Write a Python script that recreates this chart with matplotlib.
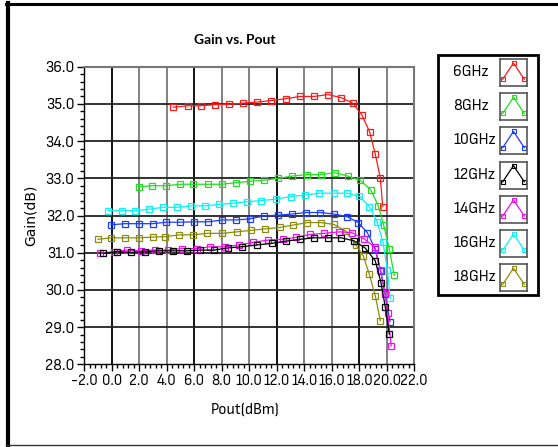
import matplotlib
matplotlib.use("Agg")
from matplotlib import pyplot as plt
from matplotlib.lines import Line2D
import numpy as np

plt.rcParams['font.family'] = ['Lato', 'DejaVu Sans']
narrow = ['Sofia Sans Semi Condensed', 'Lato']

# data: Pout (dBm) and Gain (dB) for each frequency
labels = ["6GHz", "8GHz", "10GHz", "12GHz", "14GHz", "16GHz", "18GHz"]
colors = ["#ff1a1a", "#22dd22", "#1a3cff", "#000000", "#ee10ee", "#10f0f0", "#8c8c10"]

pout_6 = [4.48, 5.53, 6.49, 7.51, 8.53, 9.53, 10.59, 11.6, 12.65, 13.7, 14.7, 15.75,
          16.68, 17.53, 18.2, 18.76, 19.17, 19.54, 19.71]
gain_6 = [34.91, 34.95, 34.95, 34.98, 34.99, 35.02, 35.05, 35.09, 35.14, 35.2, 35.2, 35.25,
          35.17, 35.02, 34.70, 34.25, 33.65, 33.0, 32.24]

pout_8 = [1.96, 2.93, 3.95, 4.99, 5.93, 6.98, 8.0, 9.02, 10.06, 11.08, 12.12, 13.13,
          14.18, 15.2, 16.24, 17.16, 18.06, 18.84, 19.39, 19.78, 20.19, 20.55]
gain_8 = [32.77, 32.80, 32.80, 32.84, 32.84, 32.84, 32.84, 32.88, 32.92, 32.95, 33.0, 33.06,
          33.10, 33.10, 33.15, 33.06, 32.95, 32.69, 32.26, 31.74, 31.1, 30.39]

pout_10 = [-0.05, 0.95, 1.96, 2.98, 3.97, 4.99, 6.01, 7.03, 8.04, 9.04, 10.06, 11.1, 12.12,
           13.13, 14.15, 15.17, 16.17, 17.11, 17.93, 18.59, 19.17, 19.56, 19.88, 20.24]
gain_10 = [31.75, 31.78, 31.78, 31.78, 31.82, 31.82, 31.83, 31.83, 31.88, 31.88, 31.91, 31.99,
           32.01, 32.04, 32.08, 32.08, 32.04, 31.97, 31.81, 31.54, 31.09, 30.52, 29.88, 29.15]

pout_12 = [-0.61, 0.41, 1.4, 2.42, 3.42, 4.44, 5.45, 6.42, 7.44, 8.48, 9.5, 10.59, 11.64,
           12.65, 13.7, 14.73, 15.73, 16.68, 17.62, 18.42, 19.17, 19.59, 19.9, 20.19]
gain_12 = [30.98, 31.03, 31.01, 31.03, 31.05, 31.05, 31.05, 31.07, 31.07, 31.13, 31.16, 31.21,
           31.25, 31.31, 31.36, 31.40, 31.40, 31.40, 31.32, 31.13, 30.78, 30.18, 29.53, 28.81]

pout_14 = [-0.85, 0.17, 1.09, 2.13, 3.13, 4.12, 5.11, 6.18, 7.15, 8.22, 9.28, 10.3, 11.39,
           12.44, 13.38, 14.42, 15.44, 16.55, 17.45, 18.37, 19.13, 19.54, 19.88, 20.07, 20.33]
gain_14 = [30.98, 31.03, 31.07, 31.05, 31.07, 31.07, 31.11, 31.11, 31.16, 31.16, 31.21, 31.28,
           31.34, 31.36, 31.41, 31.49, 31.52, 31.56, 31.54, 31.37, 31.15, 30.53, 29.91, 29.37, 28.49]

pout_16 = [-0.29, 0.73, 1.72, 2.73, 3.75, 4.77, 5.79, 6.81, 7.8, 8.82, 9.84, 10.85, 11.97,
           13.02, 14.06, 15.1, 16.15, 17.11, 18.01, 18.73, 19.32, 19.73, 20.05, 20.26]
gain_16 = [32.13, 32.13, 32.13, 32.17, 32.22, 32.22, 32.26, 32.26, 32.30, 32.33, 32.37, 32.40,
           32.44, 32.51, 32.55, 32.6, 32.6, 32.6, 32.52, 32.24, 31.82, 31.28, 30.53, 29.77]

pout_18 = [-1.0, -0.03, 0.99, 1.99, 3.0, 3.88, 4.92, 5.93, 6.91, 8.04, 9.09, 10.11, 11.15,
           12.24, 13.16, 14.23, 15.2, 16.17, 17.02, 17.77, 18.3, 18.73, 19.17, 19.54]
gain_18 = [31.36, 31.40, 31.40, 31.40, 31.42, 31.43, 31.48, 31.48, 31.52, 31.52, 31.56, 31.60,
           31.64, 31.68, 31.74, 31.81, 31.81, 31.76, 31.58, 31.2, 30.91, 30.43, 29.84, 29.17]

pouts = [pout_6, pout_8, pout_10, pout_12, pout_14, pout_16, pout_18]
gains = [gain_6, gain_8, gain_10, gain_12, gain_14, gain_16, gain_18]

x_ticks = np.arange(-2, 22.1, 2)
y_ticks = np.arange(28, 36.1, 1)

W, H = 558, 447
fig = plt.figure(figsize=(W / 100, H / 100), dpi=100)

# outer frame of the screenshot
fig.add_artist(Line2D([7.5 / W, 7.5 / W], [1 - 3 / H, 1 - 445 / H], color="black", lw=3))
fig.add_artist(Line2D([6 / W, 1], [1 - 3.5 / H, 1 - 3.5 / H], color="black", lw=2.2))
fig.add_artist(Line2D([6 / W, 1], [1 - 445 / H, 1 - 445 / H], color="#333333", lw=1))

ax = fig.add_axes([84.2 / W, 1 - 364.3 / H, 330 / W, 297.6 / H])

# plot curves, drawn back to front like the reference
for i in [0, 1, 5, 2, 6, 4, 3]:
    ax.plot(pouts[i], gains[i], color=colors[i], lw=0.9, marker="s", markersize=4.2,
            markerfacecolor="none", markeredgewidth=0.9, zorder=3)

ax.set_xlim(-2, 22)
ax.set_ylim(28, 36)
ax.set_xticks(x_ticks)
ax.set_xticklabels(["%.1f" % v for v in x_ticks], family=narrow, fontsize=11)
ax.set_yticks(y_ticks)
ax.set_yticklabels(["%.1f" % v for v in y_ticks], family=narrow, fontsize=11.5)
ax.set_xticks(np.arange(-2, 22.01, 0.4), minor=True)
ax.set_yticks(np.arange(28, 36.01, 0.2), minor=True)
ax.tick_params(which="major", direction="out", length=5, width=1, pad=2)
ax.tick_params(which="minor", direction="out", length=3, width=1)

# grid lines
for v in x_ticks[1:-1]:
    c = "black" if v % 6 == 0 else "#777777"
    ax.axvline(v, color=c, lw=1.3, zorder=1)
for v in y_ticks[1:-1]:
    ax.axhline(v, color="#222222", lw=1.3, zorder=1)

for s in ["top", "right"]:
    ax.spines[s].set_color("#777777")
    ax.spines[s].set_linewidth(1.5)
ax.spines["left"].set_linewidth(1)
ax.spines["bottom"].set_linewidth(1)

fig.text(235 / W, 1 - 40 / H, "Gain vs. Pout", ha="center", va="center",
         fontsize=10, fontweight="bold")
fig.text(245 / W, 1 - 410 / H, "Pout(dBm)", ha="center", va="center", fontsize=11.5,
         family=narrow)
fig.text(31 / W, 1 - 215 / H, "Gain(dB)", ha="center", va="center", fontsize=10,
         rotation=90, family="DejaVu Sans")

# legend box with small icons
lx0, ly0, lx1, ly1 = 438, 55, 538, 295
fig.add_artist(plt.Rectangle((lx0 / W, 1 - ly1 / H), (lx1 - lx0) / W, (ly1 - ly0) / H,
                             fill=False, edgecolor="black", lw=2, transform=fig.transFigure))
for i, lab in enumerate(labels):
    yc = 72 + i * 34.2
    fig.text(453 / W, 1 - yc / H, lab, ha="left", va="center", fontsize=11.5, family=narrow)
    iax = fig.add_axes([500 / W, 1 - (yc + 14) / H, 27 / W, 27 / H])
    iax.plot([0.1, 0.5, 0.9], [0.25, 0.85, 0.25], color=colors[i], lw=0.9, marker="s",
             markersize=3, markerfacecolor="none", markeredgewidth=0.8)
    iax.set_xlim(0, 1)
    iax.set_ylim(0, 1)
    iax.set_xticks([])
    iax.set_yticks([])
    for s in iax.spines.values():
        s.set_color("#555555")
        s.set_linewidth(1.2)

fig.savefig("out.png", dpi=100)
